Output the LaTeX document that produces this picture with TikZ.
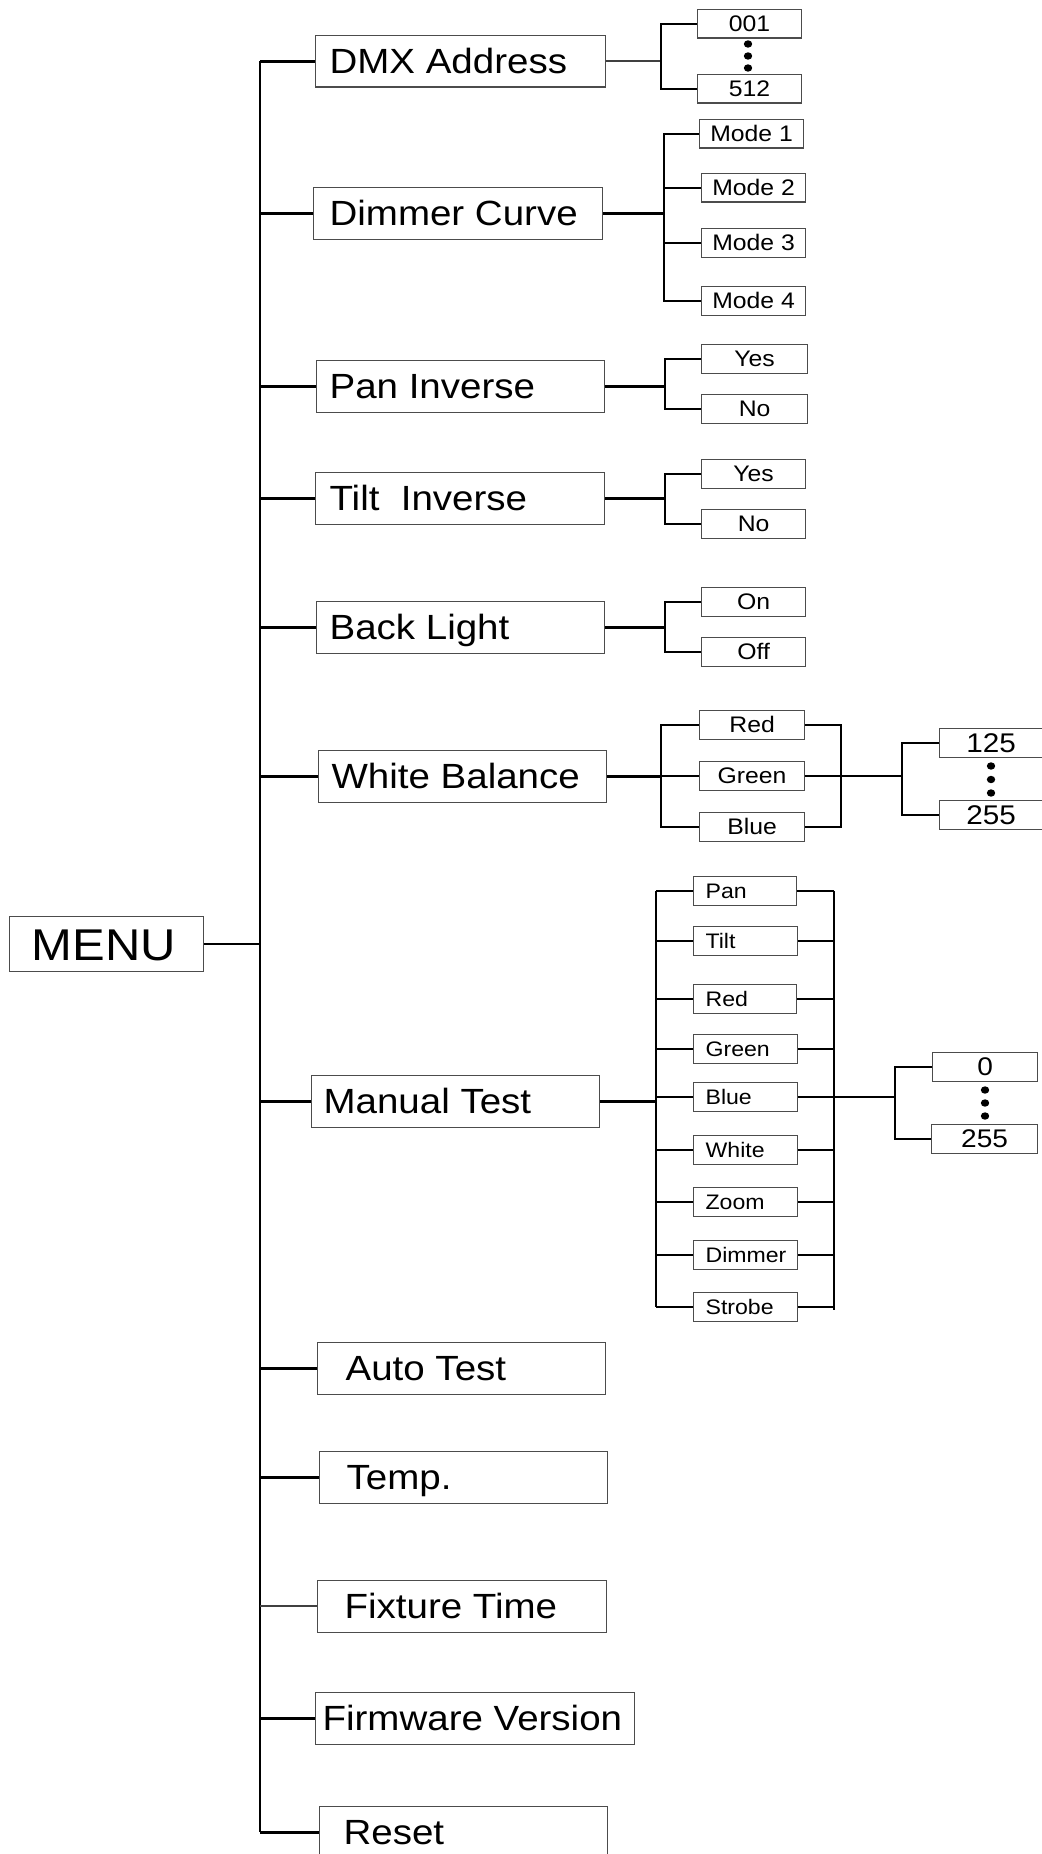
\documentclass[tikz,border=0pt]{standalone}
\usepackage{fontspec}
\setmainfont{Liberation Sans}[FakeStretch=1.1]
\newcommand\lbx[3]{\makebox[#1pt][l]{\hspace*{#2pt}#3}}
\begin{document}
\begin{tikzpicture}[x=1pt,y=-1pt,
  boxline/.style={draw=black!70, line width=1.2pt, inner sep=0pt, text depth=0pt, anchor=north west},
  bigbox/.style={boxline, minimum height=51.5pt, text height=25pt, font=\fontsize{35}{40}\selectfont},
  menubox/.style={boxline, minimum height=55pt, text height=32pt, font=\fontsize{44.5}{50}\selectfont},
  smallbox/.style={boxline, minimum width=104pt, minimum height=28.5pt, text height=16pt, font=\fontsize{22.5}{24}\selectfont},
  mtbox/.style={boxline, minimum height=28.5pt, text height=15pt, font=\fontsize{21}{23}\selectfont},
  numbox/.style={boxline, minimum width=104pt, minimum height=28.5pt, text height=19pt, font=\fontsize{27}{29}\selectfont},
  conn/.style={line width=2.6pt, black},
  thinconn/.style={line width=1.8pt, black!75},
  busline/.style={line width=2.2pt, black},
  dotfill/.style={fill=black}
]
\useasboundingbox (0,0) rectangle (1041,1854);

% bracket coordinates
\coordinate (busx) at (260,0);
\coordinate (dmxbr) at (661,0);
\coordinate (dimbr) at (664,0);
\coordinate (panbr) at (665,0);
\coordinate (tiltbr) at (665,0);
\coordinate (blbr) at (665,0);
\coordinate (wbl) at (661,0);
\coordinate (wbr) at (841,0);
\coordinate (wbn) at (902,0);
\coordinate (mtl) at (656,0);
\coordinate (mtr) at (834,0);
\coordinate (mtn) at (895,0);

% MENU
\node[menubox] (menu) at (9,916) {\lbx{194}{22}{MENU}};

% main boxes
\node[bigbox] (dmx) at (315,35) {\lbx{290}{14}{DMX Address}};
\node[bigbox] (dim) at (313,187) {\lbx{289}{16}{Dimmer Curve}};
\node[bigbox] (pan) at (316,360) {\lbx{288}{13}{Pan Inverse}};
\node[bigbox] (tilt) at (315,472) {\lbx{289}{14}{Tilt\ \ Inverse}};
\node[bigbox] (bl) at (316,601) {\lbx{288}{13}{Back Light}};
\node[bigbox] (wbal) at (318,750) {\lbx{288}{13}{White Balance}};
\node[bigbox] (man) at (311,1075) {\lbx{288}{12}{Manual Test}};
\node[bigbox] (auto) at (317,1342) {\lbx{288}{28}{Auto Test}};
\node[bigbox] (temp) at (319,1451) {\lbx{288}{27}{Temp.}};
\node[bigbox] (fix) at (317,1580) {\lbx{289}{27}{Fixture Time}};
\node[bigbox] (firm) at (315,1692) {\lbx{319}{7}{Firmware Version}};
\node[bigbox] (reset) at (319,1806) {\lbx{288}{24}{Reset}};

% bus
\draw[busline] (dmx.west -| busx) -- (reset.west -| busx);
\foreach \b in {dmx,dim,pan,tilt,bl,wbal,man,auto,temp,firm,reset}{
  \draw[conn] (\b.west -| busx) -- (\b.west);
}
\draw[thinconn] (fix.west -| busx) -- (fix.west);
\draw[conn] (menu.east) -- (menu.east -| busx);

% DMX address
\node[smallbox] (d001) at (697,9) {001};
\node[smallbox] (d512) at (697,74) {512};
\draw[thinconn] (dmx.east) -- (dmx.east -| dmxbr);
\draw[conn] (d001.west) -- (d001.west -| dmxbr) -- (d512.west -| dmxbr) -- (d512.west);
\fill[dotfill] (748,44) ellipse [x radius=4.2pt, y radius=3.7pt];
\fill[dotfill] (748,56) ellipse [x radius=4.2pt, y radius=3.7pt];
\fill[dotfill] (748,68) ellipse [x radius=4.2pt, y radius=3.7pt];

% Dimmer curve
\node[smallbox] (mo1) at (699,119) {Mode 1};
\node[smallbox] (mo2) at (701,173) {Mode 2};
\node[smallbox] (mo3) at (701,228) {Mode 3};
\node[smallbox] (mo4) at (701,286) {Mode 4};
\draw[conn] (dim.east) -- (dim.east -| dimbr);
\draw[conn] (mo1.west) -- (mo1.west -| dimbr) -- (mo4.west -| dimbr) -- (mo4.west);
\draw[conn] (mo2.west) -- (mo2.west -| dimbr);
\draw[conn] (mo3.west) -- (mo3.west -| dimbr);

% Pan inverse
\node[smallbox, minimum width=106pt] (py) at (701,344) {Yes};
\node[smallbox, minimum width=106pt] (pn) at (701,394) {No};
\draw[conn] (pan.east) -- (pan.east -| panbr);
\draw[conn] (py.west) -- (py.west -| panbr) -- (pn.west -| panbr) -- (pn.west);

% Tilt inverse
\node[smallbox] (ty) at (701,459) {Yes};
\node[smallbox] (tn) at (701,509) {No};
\draw[conn] (tilt.east) -- (tilt.east -| tiltbr);
\draw[conn] (ty.west) -- (ty.west -| tiltbr) -- (tn.west -| tiltbr) -- (tn.west);

% Back light
\node[smallbox] (bon) at (701,587) {On};
\node[smallbox] (boff) at (701,637) {Off};
\draw[conn] (bl.east) -- (bl.east -| blbr);
\draw[conn] (bon.west) -- (bon.west -| blbr) -- (boff.west -| blbr) -- (boff.west);

% White balance
\node[smallbox, minimum width=105pt] (wr) at (699,710) {Red};
\node[smallbox, minimum width=105pt] (wg) at (699,761) {Green};
\node[smallbox, minimum width=105pt] (wb) at (699,812) {Blue};
\draw[conn] (wbal.east) -- (wbal.east -| wbl);
\draw[conn] (wr.west) -- (wr.west -| wbl) -- (wb.west -| wbl) -- (wb.west);
\draw[conn] (wg.west) -- (wg.west -| wbl);
\draw[conn] (wr.east) -- (wr.east -| wbr) -- (wb.east -| wbr) -- (wb.east);
\draw[conn] (wg.east) -- (wg.east -| wbn);
\node[numbox, minimum width=103pt] (w125) at (939,728) {125};
\node[numbox, minimum width=103pt] (w255) at (939,800) {255};
\draw[conn] (w125.west) -- (w125.west -| wbn) -- (w255.west -| wbn) -- (w255.west);
\fill[dotfill] (991,766) ellipse [x radius=4.2pt, y radius=3.7pt];
\fill[dotfill] (991,779.5) ellipse [x radius=4.2pt, y radius=3.7pt];
\fill[dotfill] (991,793) ellipse [x radius=4.2pt, y radius=3.7pt];

% Manual test
\node[mtbox] (mpan) at (693,876) {\lbx{103}{12}{Pan}};
\node[mtbox] (mtilt) at (693,926) {\lbx{104}{12}{Tilt}};
\node[mtbox] (mred) at (693,984) {\lbx{103}{12}{Red}};
\node[mtbox] (mgreen) at (693,1034) {\lbx{104}{12}{Green}};
\node[mtbox] (mblue) at (693,1082) {\lbx{104}{12}{Blue}};
\node[mtbox] (mwhite) at (693,1135) {\lbx{104}{12}{White}};
\node[mtbox] (mzoom) at (693,1187) {\lbx{104}{12}{Zoom}};
\node[mtbox] (mdim) at (693,1240) {\lbx{104}{12}{Dimmer}};
\node[mtbox] (mstrobe) at (693,1292) {\lbx{104}{12}{Strobe}};
\draw[conn] (man.east) -- (man.east -| mtl);
\draw[conn] (mpan.west -| mtl) -- (mstrobe.west -| mtl);
\draw[conn] (mpan.east -| mtr) -- ([yshift=-3pt]mstrobe.east -| mtr);
\foreach \m in {mpan,mtilt,mred,mgreen,mblue,mwhite,mzoom,mdim,mstrobe}{
  \draw[conn] (\m.west -| mtl) -- (\m.west);
  \draw[conn] (\m.east) -- (\m.east -| mtr);
}
\draw[conn] (mblue.east -| mtr) -- (mblue.east -| mtn);
\node[numbox, minimum width=105pt, font=\fontsize{25.5}{28}\selectfont, text height=18pt] (m0) at (932,1052) {0};
\node[numbox, minimum width=106pt, font=\fontsize{25.5}{28}\selectfont, text height=18pt] (m255) at (931,1124) {255};
\draw[conn] (m0.west) -- (m0.west -| mtn) -- (m255.west -| mtn) -- (m255.west);
\fill[dotfill] (985,1090) ellipse [x radius=4.2pt, y radius=3.7pt];
\fill[dotfill] (985,1103) ellipse [x radius=4.2pt, y radius=3.7pt];
\fill[dotfill] (985,1116) ellipse [x radius=4.2pt, y radius=3.7pt];
\end{tikzpicture}
\end{document}
